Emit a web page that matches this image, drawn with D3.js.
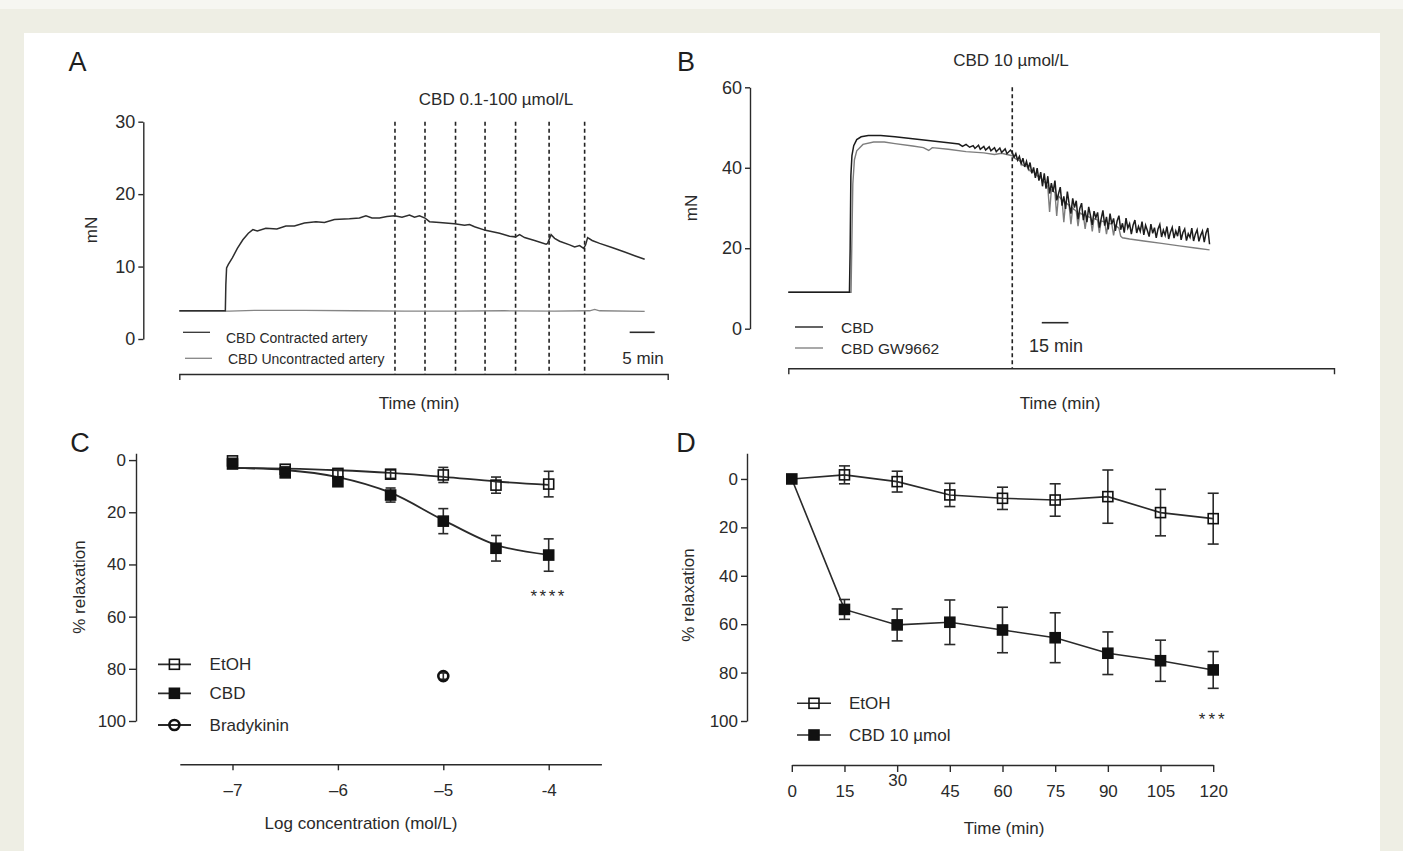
<!DOCTYPE html>
<html>
<head>
<meta charset="utf-8">
<script src="https://cdn.jsdelivr.net/npm/d3@7"></script>
<style>
  body { margin: 0; background: #eeeee4; }
  svg { display: block; }
</style>
</head>
<body>
<div id="chart"></div>
<script>
// ---- panel A : isometric tension trace, time in min, force in mN
const aContracted = [[0,3.9],[9.2,3.9],[9.3,7.5],[9.45,9.8],[9.8,10.3],[10.6,11.2],[11.6,12.5],[12.7,13.7],[13.8,14.6],[14.7,15.1],[15.6,14.9],[17.3,15.3],[19.5,15.2],[21.3,15.6],[23,15.6],[25,16.0],[27.3,16.2],[29,16.1],[31,16.5],[34,16.6],[36,16.7],[37.3,17.0],[38.5,16.7],[40,16.7],[41.5,16.9],[43,17.0],[44.5,16.8],[46,17.1],[47,16.8],[48,17.0],[49.1,16.7],[50,16.2],[52,16.1],[55,15.9],[57,15.7],[58,15.8],[59,15.5],[61.2,15.0],[64,14.6],[66,14.2],[67.2,14.1],[68,14.4],[69,14.0],[71,13.6],[73.3,13.1],[73.6,13.2],[74.3,14.4],[75,13.9],[76,13.5],[78,13.0],[79,12.7],[80,12.9],[80.8,12.5],[81.2,13.0],[81.6,14.0],[82.5,13.6],[84,13.2],[86.6,12.6],[89,12.0],[91,11.5],[93,11.0]]
const aUncontracted = [[0,3.85],[10,3.85],[15,3.95],[25,3.95],[35,3.9],[45,3.85],[55,3.85],[65,3.9],[75,3.85],[82,3.9],[83,4.1],[84,3.9],[93,3.8]]
const aDoses = [43.1, 49.1, 55.2, 61.1, 67.2, 73.9, 81.0]
const aTicks = [0, 10, 20, 30]

// ---- panel B : CBD 10 umol/L with / without GW9662
const bCbd = [[0,9.05],[34.4,9.05],[34.8,20],[35.2,38],[35.8,43],[36.8,45.5],[38.5,47],[41,47.7],[45,48.0],[52,48.0],[60,47.7],[70,47.2],[80,46.7],[90,46.2],[96,45.9],[98,45.3],[100,45.8],[102,45.1],[104,45.5],[105,44.8],[107,45.6],[108,44.6],[110,45.3],[111,44.4],[113,45.2],[114,44.2],[116,45.0],[117,44.0],[119,44.9],[120,43.8],[122,44.7],[123,43.5],[125,44.4],
  [126,43.8],[127,42.6],[128,43.5],[129,41.9],[130,42.8],[131,41.0],[132,42.4],[133,40.2],[134,41.6],[135,39.8],[136,41.3],[137,38.6],[138,40.1],[139,37.5],[140,39.9],[141,36.8],[142,38.9],[143,35.4],[144,38.6],[145,34.8],[146,37.9],[147,33.6],[148,36.2],[149,34.0],
  [150,36.8],[151,31.9],[152,33.5],[153,35.2],[154,30.6],[155,32.9],[156,29.8],[157,34.1],[158,31.0],[159,28.6],[160,32.4],[161,30.1],[162,31.8],[163,27.2],[164,29.9],[165,31.2],[166,27.0],[167,29.4],[168,26.5],[169,30.3],[170,28.1],[171,25.8],[172,29.2],[173,27.6],[174,28.9],[175,25.1],[176,27.3],[177,29.4],[178,25.6],[179,27.8],[180,24.7],[181,28.6],[182,26.0],[183,27.4],[184,24.3],[185,26.8],[186,28.1],[187,24.6],[188,26.2],[189,23.9],[190,27.5],[191,25.0],[192,26.1],[193,23.5],[194,25.8],[195,27.0],[196,23.8],[197,25.4],[198,24.2],[199,26.6],[200,23.3],[201,25.7],[202,24.4],[203,22.9],[204,26.0],[205,23.7],[206,25.1],[207,22.6],[208,24.8],[209,25.9],[210,22.8],[211,24.5],[212,23.2],[213,25.4],[214,22.3],[215,24.0],[216,25.2],[217,22.5],[218,24.3],[219,23.0],[220,25.5],[221,22.1],[222,23.9],[223,24.8],[224,21.9],[225,23.6],[226,22.7],[227,25.0],[228,21.8],[229,23.5],[230,24.6],[231,21.7],[232,23.2],[233,24.3],[234,21.5],[235,23.8],[236,25.0],[237,21.0]]
const bGw = [[0,9.05],[35.3,9.05],[35.7,20],[36.3,36],[37.2,42],[38.5,44.2],[42,45.8],[48,46.4],[54,46.4],[60,46.0],[70,45.4],[76,45.0],[79,44.3],[81,45.0],[90,44.6],[100,44.0],[110,43.7],[116,43.3],[120,43.6],[126,43.0],[128,42.2],[130,41.8],[132,40.6],[134,40.5],[136,39.2],[138,39.0],[140,38.0],[142,37.5],[144,36.5],[145,36.0],[146,35.2],[147,29.0],[148,34.5],[150,33.8],[151,28.0],[152,33.0],[154,32.0],[155,26.5],[156,31.4],[158,30.6],[159,26.0],[160,30.0],[162,29.2],[163,25.5],[164,28.8],[166,28.2],[167,24.8],[168,28.0],[170,27.6],[171,24.2],[172,27.4],[174,27.0],[175,23.8],[176,26.8],[178,26.5],[179,23.5],[180,26.2],[182,26.0],[183,23.2],[184,25.7],[186,25.0],[187,23.0],[188,22.6],[192,22.3],[200,21.8],[210,21.2],[220,20.6],[230,20.0],[237,19.6]]
const bDose = 126
const bTicks = [0, 20, 40, 60]

// ---- panel C : concentration response
const logConc = [-7, -6.5, -6, -5.5, -5, -4.5, -4]
const etohC = [0.3, 3.5, 5.1, 5.4, 5.7, 9.6, 9.2]
const etohCSem = [1.0, 1.0, 1.5, 1.6, 2.9, 3.1, 4.9]
const cbdC = [1.5, 4.9, 8.3, 13.4, 23.4, 33.8, 36.4]
const cbdCSem = [1.0, 1.0, 1.5, 2.7, 4.8, 4.9, 6.2]
const etohCFit = [3.0, 3.3, 3.9, 4.9, 6.4, 8.2, 9.5]
const cbdCFit = [3.0, 3.8, 6.5, 12.5, 23.0, 32.5, 36.3]
const bradykinin = [-5, 82.8, 1.2]
const cTicks = [0, 20, 40, 60, 80, 100]

// ---- panel D : time course
const timeD = [0, 15, 30, 45, 60, 75, 90, 105, 120]
const etohD = [0, -1.7, 1.1, 6.6, 8.0, 8.7, 7.3, 13.9, 16.4]
const etohDSem = [0, 3.7, 4.3, 4.8, 4.6, 6.7, 11.0, 9.6, 10.5]
const cbdD = [0, 53.9, 60.3, 59.2, 62.4, 65.6, 72.0, 75.1, 78.9]
const cbdDSem = [0, 4.1, 6.6, 9.2, 9.4, 10.3, 8.8, 8.5, 7.6]

const W = 1403, H = 851
const FONT = "'Liberation Sans', Arial, Helvetica, sans-serif"
const ink = "#2a2a2a"
const grey = "#858585"

const svg = d3.select("#chart").append("svg")
  .attr("width", W)
  .attr("height", H)
  .style("font-family", FONT)

// page frame
svg.append("rect").attr("width", W).attr("height", H).attr("fill", "#eeeee4")
svg.append("rect").attr("width", W).attr("height", 9).attr("fill", "#f6f6f1")
svg.append("rect").attr("x", 24).attr("y", 33).attr("width", 1356).attr("height", H - 33).attr("fill", "#fff")

function styleAxis(g, size) {
  g.attr("font-family", FONT).attr("font-size", size)
  g.selectAll("path, line").attr("stroke", ink).attr("stroke-width", 1.4)
  g.selectAll("text").attr("fill", ink)
}

function label(x, y, txt, size, opts = {}) {
  const t = svg.append("text")
    .attr("x", x).attr("y", y)
    .attr("font-size", size)
    .attr("fill", opts.fill || ink)
    .attr("text-anchor", opts.anchor || "start")
    .text(txt)
  if (opts.rotate) t.attr("transform", `rotate(-90,${x},${y})`)
  if (opts.spacing) t.attr("letter-spacing", opts.spacing)
  return t
}

// panel letters
label(77.5, 71, "A", 27, { anchor: "middle", fill: "#1e1e1e" })
label(686, 71, "B", 27, { anchor: "middle", fill: "#1e1e1e" })
label(80, 452, "C", 27, { anchor: "middle", fill: "#1e1e1e" })
label(686, 452, "D", 27, { anchor: "middle", fill: "#1e1e1e" })

// ================= A
const ax = d3.scaleLinear().domain([0, 97.6]).range([179.3, 667.7])
const ay = d3.scaleLinear().domain([0, 30]).range([339, 121.7])

svg.append("g").attr("transform", "translate(143.3,0)")
  .call(d3.axisLeft(ay).tickValues(aTicks).tickSize(5).tickSizeOuter(0).tickPadding(3))
  .call(g => styleAxis(g, 18))
svg.append("g").attr("transform", "translate(0,374)")
  .call(d3.axisBottom(ax).tickValues([]).tickSizeOuter(6))
  .call(g => styleAxis(g, 17))

svg.append("g").selectAll("line").data(aDoses).join("line")
  .attr("x1", d => ax(d)).attr("x2", d => ax(d))
  .attr("y1", ay(30)).attr("y2", 374)
  .attr("stroke", "#222").attr("stroke-width", 1.6).attr("stroke-dasharray", "4,3")

const aLine = d3.line().x(d => ax(d[0])).y(d => ay(d[1]))
svg.append("path").attr("d", aLine(aUncontracted)).attr("fill", "none").attr("stroke", grey).attr("stroke-width", 1.3)
svg.append("path").attr("d", aLine(aContracted)).attr("fill", "none").attr("stroke", "#2e2e2e").attr("stroke-width", 1.5)

label(496, 105, "CBD 0.1-100 µmol/L", 17, { anchor: "middle" })
label(97, 230, "mN", 17, { anchor: "middle", rotate: true })
label(419, 409, "Time (min)", 17, { anchor: "middle" })

svg.append("line").attr("x1", 183).attr("x2", 210).attr("y1", 332.3).attr("y2", 332.3).attr("stroke", "#333").attr("stroke-width", 1.3)
svg.append("line").attr("x1", 185).attr("x2", 212).attr("y1", 358.3).attr("y2", 358.3).attr("stroke", grey).attr("stroke-width", 1.3)
label(226, 343, "CBD Contracted artery", 14)
label(228, 364, "CBD Uncontracted artery", 14)

svg.append("line").attr("x1", ax(90)).attr("x2", ax(95)).attr("y1", 332.3).attr("y2", 332.3).attr("stroke", ink).attr("stroke-width", 1.6)
label(643, 364, "5 min", 17, { anchor: "middle" })

// ================= B
const bx = d3.scaleLinear().domain([0, 307]).range([788.3, 1334])
const by = d3.scaleLinear().domain([0, 60]).range([328.7, 87.3])

svg.append("g").attr("transform", "translate(750,0)")
  .call(d3.axisLeft(by).tickValues(bTicks).tickSize(5).tickSizeOuter(0).tickPadding(3))
  .call(g => styleAxis(g, 18))
svg.append("g").attr("transform", "translate(0,368.3)")
  .call(d3.axisBottom(bx).tickValues([]).tickSizeOuter(6))
  .call(g => styleAxis(g, 17))

svg.append("line")
  .attr("x1", bx(bDose)).attr("x2", bx(bDose))
  .attr("y1", by(60)).attr("y2", 368.3)
  .attr("stroke", "#222").attr("stroke-width", 1.6).attr("stroke-dasharray", "4,3")

const bLine = d3.line().x(d => bx(d[0])).y(d => by(d[1]))
svg.append("path").attr("d", bLine(bGw)).attr("fill", "none").attr("stroke", "#7d7d7d").attr("stroke-width", 1.4)
svg.append("path").attr("d", bLine(bCbd)).attr("fill", "none").attr("stroke", "#1c1c1c").attr("stroke-width", 1.5)

label(1011, 66, "CBD 10 µmol/L", 17, { anchor: "middle" })
label(697, 208, "mN", 17, { anchor: "middle", rotate: true })
label(1060, 409, "Time (min)", 17, { anchor: "middle" })

svg.append("line").attr("x1", 795).attr("x2", 823).attr("y1", 327).attr("y2", 327).attr("stroke", "#222").attr("stroke-width", 1.4)
svg.append("line").attr("x1", 795).attr("x2", 823).attr("y1", 348).attr("y2", 348).attr("stroke", grey).attr("stroke-width", 1.4)
label(841, 333, "CBD", 15.5)
label(841, 354, "CBD GW9662", 15.5)

svg.append("line").attr("x1", bx(142.6)).attr("x2", bx(157.6)).attr("y1", 322.7).attr("y2", 322.7).attr("stroke", ink).attr("stroke-width", 1.6)
label(1056, 352, "15 min", 18, { anchor: "middle" })

// ---- markers and error bars shared by C and D
function errorBars(g, xs, ys, sems, x, y, cap) {
  const d = xs.map((v, i) => ({ x: v, y: ys[i], e: sems[i] })).filter(p => p.e > 0)
  g.selectAll(null).data(d).join("line")
    .attr("x1", p => x(p.x)).attr("x2", p => x(p.x))
    .attr("y1", p => y(p.y - p.e)).attr("y2", p => y(p.y + p.e))
    .attr("stroke", ink).attr("stroke-width", 1.6)
  ;[-1, 1].forEach(s => {
    g.selectAll(null).data(d).join("line")
      .attr("x1", p => x(p.x) - cap / 2).attr("x2", p => x(p.x) + cap / 2)
      .attr("y1", p => y(p.y + s * p.e)).attr("y2", p => y(p.y + s * p.e))
      .attr("stroke", ink).attr("stroke-width", 1.6)
  })
}
function squares(g, xs, ys, x, y, filled, size) {
  g.selectAll(null).data(xs.map((v, i) => [v, ys[i]])).join("rect")
    .attr("x", p => x(p[0]) - size / 2).attr("y", p => y(p[1]) - size / 2)
    .attr("width", size).attr("height", size)
    .attr("fill", filled ? "#111" : "none")
    .attr("stroke", "#111").attr("stroke-width", 1.6)
}

// ================= C
const cx = d3.scaleLinear().domain([-7.5, -3.5]).range([179.8, 601.4])
const cy = d3.scaleLinear().domain([-2.6, 100]).range([453.3, 721])

svg.append("g").attr("transform", "translate(136,0)")
  .call(d3.axisLeft(cy).tickValues(cTicks).tickSize(7).tickSizeOuter(0).tickPadding(3))
  .call(g => styleAxis(g, 17))
svg.append("g").attr("transform", "translate(0,764.3)")
  .call(d3.axisBottom(cx).tickValues([-7, -6, -5, -4]).tickSize(6).tickSizeOuter(0).tickPadding(14)
    .tickFormat(d => d === -4 ? "-4" : "\u2013" + Math.abs(d)))
  .call(g => styleAxis(g, 17))

const cLine = d3.line().x((d, i) => cx(logConc[i])).y(d => cy(d)).curve(d3.curveMonotoneX)
svg.append("path").attr("d", cLine(etohCFit)).attr("fill", "none").attr("stroke", ink).attr("stroke-width", 1.8)
svg.append("path").attr("d", cLine(cbdCFit)).attr("fill", "none").attr("stroke", ink).attr("stroke-width", 1.8)

const gc = svg.append("g")
errorBars(gc, logConc, etohC, etohCSem, cx, cy, 10)
errorBars(gc, logConc, cbdC, cbdCSem, cx, cy, 10)
errorBars(gc, [bradykinin[0]], [bradykinin[1]], [bradykinin[2]], cx, cy, 8)
squares(gc, logConc, cbdC, cx, cy, true, 10)
squares(gc, logConc, etohC, cx, cy, false, 10)
gc.append("circle").attr("cx", cx(bradykinin[0])).attr("cy", cy(bradykinin[1])).attr("r", 5)
  .attr("fill", "none").attr("stroke", "#111").attr("stroke-width", 2.6)

label(cx(-4), 601.5, "****", 17, { anchor: "middle", spacing: 2.5 })
label(85, 587, "% relaxation", 17, { anchor: "middle", rotate: true })
label(361, 829, "Log concentration (mol/L)", 17, { anchor: "middle" })

// C legend
const cLegend = [["EtOH", "open", 664.3], ["CBD", "filled", 693.3], ["Bradykinin", "circle", 725]]
cLegend.forEach(([name, kind, y]) => {
  svg.append("line").attr("x1", 158).attr("x2", 191).attr("y1", y).attr("y2", y).attr("stroke", ink).attr("stroke-width", 1.8)
  if (kind === "circle") {
    svg.append("circle").attr("cx", 174.4).attr("cy", y).attr("r", 5).attr("fill", "none").attr("stroke", "#111").attr("stroke-width", 2.6)
  } else {
    svg.append("rect").attr("x", 169.4).attr("y", y - 5).attr("width", 10).attr("height", 10)
      .attr("fill", kind === "filled" ? "#111" : "none").attr("stroke", "#111").attr("stroke-width", 1.6)
  }
  label(209.6, y + 6, name, 17)
})

// ================= D
const dx = d3.scaleLinear().domain([0, 120]).range([791.8, 1213.2])
const dy = d3.scaleLinear().domain([-10.6, 100]).range([453.3, 721])

svg.append("g").attr("transform", "translate(747,0)")
  .call(d3.axisLeft(dy).tickValues(cTicks).tickSize(6).tickSizeOuter(0).tickPadding(3))
  .call(g => styleAxis(g, 17))
svg.append("g").attr("transform", "translate(0,765)")
  .call(d3.axisBottom(dx).tickValues(timeD).tickSize(7).tickSizeOuter(0).tickPadding(13))
  .call(g => styleAxis(g, 17))
  // the "30" label sits a little higher than its neighbours in the original
  .call(g => g.selectAll(".tick").filter(d => d === 30).select("text").attr("y", 9))

const dLine = d3.line().x((d, i) => dx(timeD[i])).y(d => dy(d))
svg.append("path").attr("d", dLine(etohD)).attr("fill", "none").attr("stroke", ink).attr("stroke-width", 1.6)
svg.append("path").attr("d", dLine(cbdD)).attr("fill", "none").attr("stroke", ink).attr("stroke-width", 1.6)

const gd = svg.append("g")
errorBars(gd, timeD, etohD, etohDSem, dx, dy, 11)
errorBars(gd, timeD, cbdD, cbdDSem, dx, dy, 11)
squares(gd, timeD.slice(1), etohD.slice(1), dx, dy, false, 10)
squares(gd, timeD, cbdD, dx, dy, true, 10)

label(dx(120), 725, "***", 17, { anchor: "middle", spacing: 3 })
label(694, 595, "% relaxation", 17, { anchor: "middle", rotate: true })
label(1004, 834, "Time (min)", 17, { anchor: "middle" })

const dLegend = [["EtOH", false, 703.3], ["CBD 10 µmol", true, 735]]
dLegend.forEach(([name, filled, y]) => {
  svg.append("line").attr("x1", 797).attr("x2", 831).attr("y1", y).attr("y2", y).attr("stroke", ink).attr("stroke-width", 1.6)
  svg.append("rect").attr("x", 809).attr("y", y - 5).attr("width", 10).attr("height", 10)
    .attr("fill", filled ? "#111" : "none").attr("stroke", "#111").attr("stroke-width", 1.6)
  label(849, y + 6, name, 17)
})
</script>
</body>
</html>
